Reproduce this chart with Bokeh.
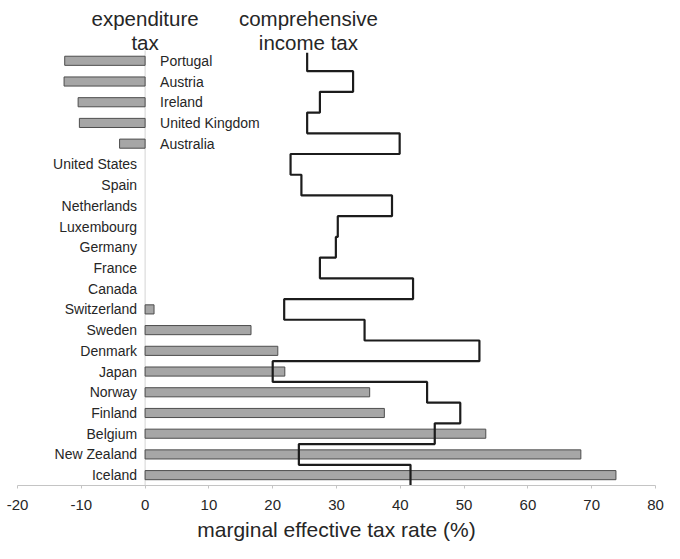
from bokeh.plotting import figure
from bokeh.models import ColumnDataSource, Range1d, FixedTicker
from bokeh.core.properties import value
from bokeh.embed import file_html
from bokeh.resources import INLINE

countries = ["Portugal", "Austria", "Ireland", "United Kingdom", "Australia",
             "United States", "Spain", "Netherlands", "Luxembourg", "Germany",
             "France", "Canada", "Switzerland", "Sweden", "Denmark", "Japan",
             "Norway", "Finland", "Belgium", "New Zealand", "Iceland"]
expenditure_tax = [-12.6, -12.7, -10.5, -10.3, -4.0,
                   0, 0, 0, 0, 0,
                   0, 0, 1.4, 16.6, 20.8, 21.9,
                   35.2, 37.5, 53.4, 68.3, 73.8]
income_tax = [25.4, 32.6, 27.4, 25.4, 39.9,
              22.8, 24.5, 38.7, 30.2, 29.9,
              27.4, 42.0, 21.8, 34.4, 52.4, 20.0,
              44.2, 49.4, 45.4, 24.1, 41.6]
x_ticks = [-20, -10, 0, 10, 20, 30, 40, 50, 60, 70, 80]

n = len(countries)
rows = [n - 1 - i for i in range(n)]  # Portugal at top

FONT = value("Liberation Sans")
TXT = "#262626"

p = figure(width=664, height=543, output_backend="svg", toolbar_location=None,
           x_range=Range1d(-20, 80), y_range=Range1d(-0.5, 22.91),
           y_axis_location=None, min_border_left=17, min_border_right=9,
           min_border_top=0, min_border_bottom=0)
p.outline_line_color = None
p.grid.visible = False
p.background_fill_color = "white"

# faint zero line
p.segment(x0=[0], y0=[-0.5], x1=[0], y1=[n - 0.5], line_color="#d4d4d4", line_width=1)

bars = ColumnDataSource(dict(y=[r for r, v in zip(rows, expenditure_tax) if v != 0],
                             v=[v for v in expenditure_tax if v != 0]))
p.hbar(y="y", left=0, right="v", height=0.44, source=bars,
       fill_color="#a6a6a6", line_color="#4d4d4d", line_width=1)

# vertical step line for comprehensive income tax
xs, ys = [], []
for r, v in zip(rows, income_tax):
    top = r + 0.39 if r == n - 1 else r + 0.5
    xs += [v, v]
    ys += [top, r - 0.5]
p.line(xs, ys, line_color="#1c1c1c", line_width=2.2)

# country labels
lx = [0 for v in expenditure_tax if v < 0]
ly = [r for r, v in zip(rows, expenditure_tax) if v < 0]
lt = [c for c, v in zip(countries, expenditure_tax) if v < 0]
rx = [0 for v in expenditure_tax if v >= 0]
ry = [r for r, v in zip(rows, expenditure_tax) if v >= 0]
rt = [c for c, v in zip(countries, expenditure_tax) if v >= 0]
p.text(x=lx, y=ly, text=lt, x_offset=15, text_align="left", text_baseline="middle",
       text_font=FONT, text_font_size="14px", text_color=TXT)
p.text(x=rx, y=ry, text=rt, x_offset=-8, text_align="right", text_baseline="middle",
       text_font=FONT, text_font_size="14px", text_color=TXT)

# series titles
p.text(x=[0, 0], y=[22.04, 20.87], text=["expenditure", "tax"], text_align="center",
       text_baseline="middle", text_font=FONT, text_font_size="20.5px", text_color=TXT)
p.text(x=[25.6, 25.6], y=[22.04, 20.87], text=["comprehensive", "income tax"],
       text_align="center", text_baseline="middle", text_font=FONT,
       text_font_size="20.5px", text_color=TXT)

ax = p.xaxis[0]
ax.ticker = FixedTicker(ticks=x_ticks)
ax.major_label_overrides = {t: str(t) for t in x_ticks}
ax.axis_label = "marginal effective tax rate (%)"
ax.axis_label_text_font = "Liberation Sans"
ax.axis_label_text_font_style = "normal"
ax.axis_label_text_font_size = "21px"
ax.axis_label_text_color = TXT
ax.axis_label_standoff = 5
ax.major_label_text_font = "Liberation Sans"
ax.major_label_text_font_size = "15px"
ax.major_label_text_color = TXT
ax.major_label_standoff = 11
ax.axis_line_color = "#c4c4c4"
ax.major_tick_line_color = "#c4c4c4"
ax.major_tick_in = 0
ax.major_tick_out = 3
ax.minor_tick_line_color = None

open("out.html", "w").write(file_html(p, INLINE))
